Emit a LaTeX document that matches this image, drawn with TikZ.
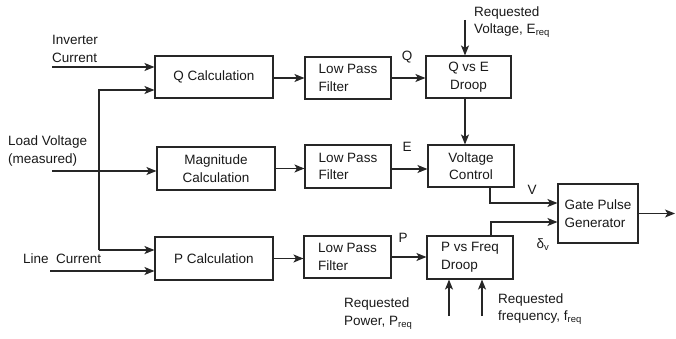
\documentclass[tikz,border=0pt]{standalone}
\usepackage{fontspec}
\setmainfont{Liberation Sans}
\usetikzlibrary{arrows.meta}

\begin{document}
\begin{tikzpicture}[x=1pt, y=-1pt,
  every node/.style={font=\fontsize{13.5}{17.5}\selectfont, text=black!90},
  blockbox/.style={draw=black!85, line width=1.1pt, fill=white, align=center, inner sep=0pt, minimum height=42pt},
  sig/.style={draw=black!85, line width=1.1pt, -{Stealth[length=10pt, width=8pt, inset=2.5pt]}},
  lbl/.style={align=left, inner sep=0pt, anchor=west}]
  \useasboundingbox (0,0) rectangle (676,339);
  % blocks
  \node[blockbox, minimum width=118pt] (qcalc) at (214,77)    {Q Calculation};
  \node[blockbox, minimum width=118pt, minimum height=43pt] (magcalc) at (216,168.5) {Magnitude\\Calculation};
  \node[blockbox, minimum width=118pt, minimum height=43pt] (pcalc) at (214,258.5) {P Calculation};
  \node[blockbox, minimum width=86pt, align=left]  (lpfq) at (348,78)    {Low Pass\\Filter};
  \node[blockbox, minimum width=86pt, align=left, minimum height=43pt]  (lpfe) at (348,166.5) {Low Pass\\Filter};
  \node[blockbox, minimum width=87pt, align=left]  (lpfp) at (347.5,257) {Low Pass\\Filter};
  \node[blockbox, minimum width=85pt] (qdroop) at (468.5,77)  {Q vs E\\Droop};
  \node[blockbox, minimum width=86pt] (vctrl)  at (471,166)   {Voltage\\Control};
  \node[blockbox, minimum width=86pt, minimum height=43pt, align=left] (pdroop) at (470,257.5) {P vs Freq\\Droop};
  \node[blockbox, minimum width=80pt, minimum height=59pt, align=left] (gpg) at (598,213.5) {Gate Pulse\\Generator};
  % free ends
  \coordinate (invin) at (52,67);
  \coordinate (loadin) at (52,171);
  \coordinate (linein) at (50,271);
  \coordinate (busq) at (99,90);
  \coordinate (busp) at (99,250);
  \coordinate (ereq) at (465,20);
  \coordinate (preq) at (449,316);
  \coordinate (freq) at (482,316);
  \coordinate (vbend) at (490,203);
  \coordinate (dbend) at (491,222);
  \coordinate (gout) at (675,0);
  % inputs
  \draw[sig] (invin) -- (invin -| qcalc.west);
  \draw[sig] (loadin) -- (loadin -| magcalc.west);
  \draw[sig] (linein) -- (linein -| pcalc.west);
  \draw[sig] (busp) -- (busq) -- (busq -| qcalc.west);
  \draw[sig] (busp) -- (busp -| pcalc.west);
  % chains
  \draw[sig] (qcalc.east |- lpfq) -- (lpfq.west);
  \draw[sig] (magcalc.east) -- (magcalc.east -| lpfe.west);
  \draw[sig] (pcalc.east) -- (pcalc.east -| lpfp.west);
  \draw[sig] (lpfq.east) -- (lpfq.east -| qdroop.west);
  \draw[sig] (lpfe.east |- 0,169) -- (vctrl.west |- 0,169);
  \draw[sig] (lpfp.east) -- (lpfp.east -| pdroop.west);
  \draw[sig] (ereq) -- (ereq |- qdroop.north);
  \draw[sig] (ereq |- qdroop.south) -- (ereq |- vctrl.north);
  \draw[sig] (preq) -- (preq |- pdroop.south);
  \draw[sig] (freq) -- (freq |- pdroop.south);
  \draw[sig] (vbend |- vctrl.south) -- (vbend) -- (vbend -| gpg.west);
  \draw[sig] (dbend |- pdroop.north) -- (dbend) -- (dbend -| gpg.west);
  \draw[sig] (gpg.east) -- (gpg.east -| gout);
  % labels
  \node[lbl] (invlbl)  at (52,49)  {Inverter\\Current};
  \node[lbl] (loadlbl) at (8,151)  {Load Voltage\\(measured)};
  \node[lbl] (linelbl) at (23,259) {Line~ Current};
  \node[lbl] (ereqlbl) at (474,22) {Requested\\Voltage, E\textsubscript{req}};
  \node[lbl] (preqlbl) at (344,313.5) {Requested\\Power, P\textsubscript{req}};
  \node[lbl] (freqlbl) at (498,309) {Requested\\frequency, f\textsubscript{req}};
  \node (qlbl) at (407,57)  {Q};
  \node (elbl) at (407,147) {E};
  \node (plbl) at (403,238) {P};
  \node (vlbl) at (532,190) {V};
  \node (dlbl) at (543,245) {δ\textsubscript{v}};
\end{tikzpicture}
\end{document}
